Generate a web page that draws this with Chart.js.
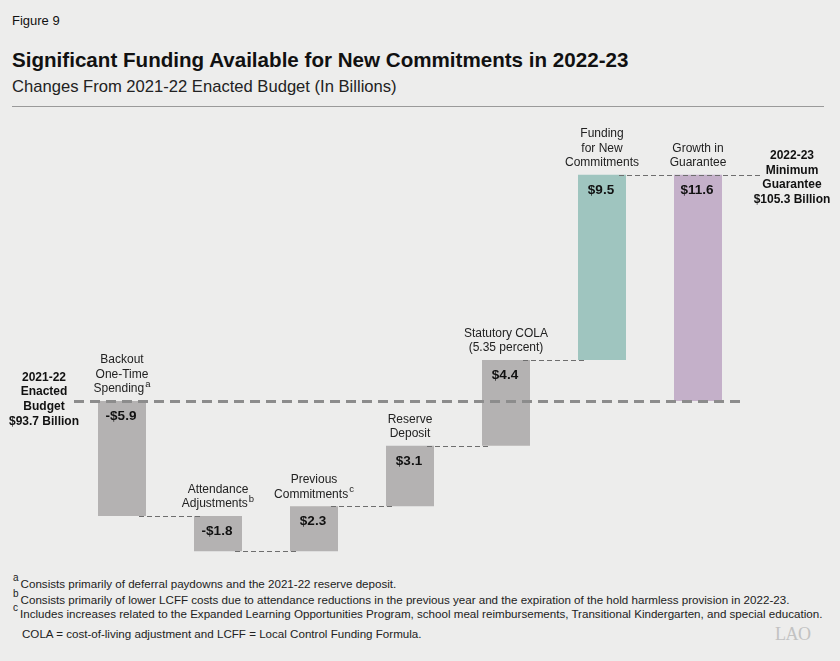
<!DOCTYPE html>
<html>
<head>
<meta charset="utf-8">
<script src="https://cdn.jsdelivr.net/npm/chart.js@4.4.0/dist/chart.umd.min.js"></script>
<style>
  html, body { margin: 0; padding: 0; }
  body {
    width: 840px; height: 661px; position: relative; overflow: hidden;
    background: #ededec; font-family: 'Liberation Sans', Arial, sans-serif; color: #111;
  }
  .abs { position: absolute; white-space: nowrap; }
  #fig { left: 12px; top: 13px; font-size: 13px; }
  #title { left: 12px; top: 48px; font-size: 20.6px; font-weight: bold; }
  #subtitle { left: 12px; top: 77px; font-size: 16.6px; color: #222; }
  #rule { left: 12px; top: 106px; width: 812px; height: 0; border-top: 1.5px solid #9a9a9a; }
  #chartBox { left: 0; top: 110px; width: 840px; height: 455px; }
  .note { left: 13px; font-size: 11.6px; color: #222; }
  .note sup { font-size: 10px; position: relative; top: -2px; margin-right: 2px; }
  #logo { left: 775px; top: 624px; font-family: 'Liberation Serif', serif; font-size: 18px; color: #c2c2c2; letter-spacing: -0.5px; }
</style>
</head>
<body>
<div class="abs" id="fig">Figure 9</div>
<div class="abs" id="title">Significant Funding Available for New Commitments in 2022-23</div>
<div class="abs" id="subtitle">Changes From 2021-22 Enacted Budget (In Billions)</div>
<div class="abs" id="rule"></div>
<div class="abs" id="chartBox"><canvas id="waterfall" width="840" height="455"></canvas></div>
<div class="abs note" style="top:574px"><sup>a</sup>Consists primarily of deferral paydowns and the 2021-22 reserve deposit.</div>
<div class="abs note" style="top:590px"><sup>b</sup>Consists primarily of lower LCFF costs due to attendance reductions in the previous year and the expiration of the hold harmless provision in 2022-23.</div>
<div class="abs note" style="top:604px"><sup>c</sup>Includes increases related to the Expanded Learning Opportunities Program, school meal reimbursements, Transitional Kindergarten, and special education.</div>
<div class="abs note" style="top:627px; left:22px">COLA = cost-of-living adjustment and LCFF = Local Control Funding Formula.</div>
<div class="abs" id="logo">LAO</div>

<script>
const categories = [
    ['Backout', 'One-Time', 'Spending'],
    ['Attendance', 'Adjustments'],
    ['Previous', 'Commitments'],
    ['Reserve', 'Deposit'],
    ['Statutory COLA', '(5.35 percent)'],
    ['Funding', 'for New', 'Commitments'],
    ['Growth in', 'Guarantee']
];
const footnoteMarks = ['a', 'b', 'c', '', '', '', ''];
const changes = [-5.9, -1.8, 2.3, 3.1, 4.4, 9.5, 11.6];
const valueLabels = ['-$5.9', '-$1.8', '$2.3', '$3.1', '$4.4', '$9.5', '$11.6'];
const isTotal = [false, false, false, false, false, false, true];
const barColors = ['#b4b2b2', '#b4b2b2', '#b4b2b2', '#b4b2b2', '#b4b2b2', '#9fc5bf', '#c4b0c9'];
const startLabel = ['2021-22', 'Enacted', 'Budget', '$93.7 Billion'];
const endLabel = ['2022-23', 'Minimum', 'Guarantee', '$105.3 Billion'];

const FONT = "'Liberation Sans', Arial, sans-serif";

document.addEventListener('DOMContentLoaded', function() {
    initWaterfall();
});

function buildRanges() {
    const ranges = [];
    let running = 0;
    for (let i = 0; i < changes.length; i++) {
        if (isTotal[i]) {
            ranges.push([0, changes[i]]);
        } else {
            ranges.push([running, running + changes[i]]);
            running += changes[i];
        }
    }
    return ranges;
}

const waterfallLabels = {
    id: 'waterfallLabels',
    afterDatasetsDraw(chart) {
        const ctx = chart.ctx;
        const y = chart.scales.y;
        const area = chart.chartArea;
        const bars = chart.getDatasetMeta(0).data;
        const ranges = chart.data.datasets[0].data;

        ctx.save();

        // thin connectors between bars
        ctx.strokeStyle = '#6e6e6e';
        ctx.lineWidth = 1.2;
        ctx.setLineDash([5, 3]);
        for (let i = 0; i < bars.length - 1; i++) {
            const yy = Math.round(y.getPixelForValue(ranges[i][1])) + 0.5;
            const x1 = bars[i].x + bars[i].width / 2 - 7;
            let x2 = bars[i + 1].x - bars[i + 1].width / 2 + 8;
            if (i === bars.length - 2) x2 = 760;
            ctx.beginPath();
            ctx.moveTo(x1, yy);
            ctx.lineTo(x2, yy);
            ctx.stroke();
        }

        // thick baseline at zero
        const y0 = y.getPixelForValue(0) + 0.5;
        ctx.strokeStyle = '#8c8c8c';
        ctx.lineWidth = 3;
        ctx.setLineDash([10, 6]);
        ctx.beginPath();
        ctx.moveTo(area.left, y0);
        ctx.lineTo(area.right - 1, y0);
        ctx.stroke();
        ctx.setLineDash([]);

        // values inside bars and category names above them
        ctx.textAlign = 'center';
        ctx.textBaseline = 'middle';
        bars.forEach(function(bar, i) {
            const top = y.getPixelForValue(Math.max(ranges[i][0], ranges[i][1]));
            ctx.fillStyle = '#111';
            ctx.font = 'bold 13.5px ' + FONT;
            ctx.fillText(valueLabels[i], bar.x - 1, top + 15);

            const lines = categories[i];
            ctx.fillStyle = '#222';
            for (let k = 0; k < lines.length; k++) {
                const ly = top - 12 - (lines.length - 1 - k) * 14.5;
                const isLast = k === lines.length - 1;
                const mark = isLast ? footnoteMarks[i] : '';
                ctx.font = '12px ' + FONT;
                const w = ctx.measureText(lines[k]).width;
                let mw = 0;
                if (mark) {
                    ctx.font = '9.5px ' + FONT;
                    mw = ctx.measureText(mark).width + 1;
                }
                const left = bar.x - (w + mw) / 2;
                ctx.textAlign = 'left';
                ctx.font = '12px ' + FONT;
                ctx.fillText(lines[k], left, ly);
                if (mark) {
                    ctx.font = '9.5px ' + FONT;
                    ctx.fillText(mark, left + w + 1, ly - 5);
                }
                ctx.textAlign = 'center';
            }
        });

        // side labels
        ctx.fillStyle = '#111';
        ctx.font = 'bold 12px ' + FONT;
        startLabel.forEach(function(t, k) {
            ctx.fillText(t, 44, y0 - 24 + k * 14.6);
        });
        const yEnd = y.getPixelForValue(ranges[ranges.length - 1][1]);
        endLabel.forEach(function(t, k) {
            ctx.fillText(t, 792, yEnd - 19 + k * 14.6);
        });

        ctx.restore();
    }
};

function initWaterfall() {
    const ctx = document.getElementById('waterfall').getContext('2d');
    new Chart(ctx, {
        type: 'bar',
        data: {
            labels: categories.map(c => c.join(' ')),
            datasets: [{
                data: buildRanges(),
                backgroundColor: barColors,
                borderWidth: 0,
                categoryPercentage: 1,
                barPercentage: 0.5
            }]
        },
        options: {
            responsive: false,
            animation: false,
            layout: { padding: { left: 74, right: 94, top: 57, bottom: 8 } },
            plugins: {
                legend: { display: false },
                tooltip: { enabled: false }
            },
            scales: {
                x: { display: false, offset: true },
                y: { display: false, min: -8, max: 12 }
            }
        },
        plugins: [waterfallLabels]
    });
}
</script>
</body>
</html>
